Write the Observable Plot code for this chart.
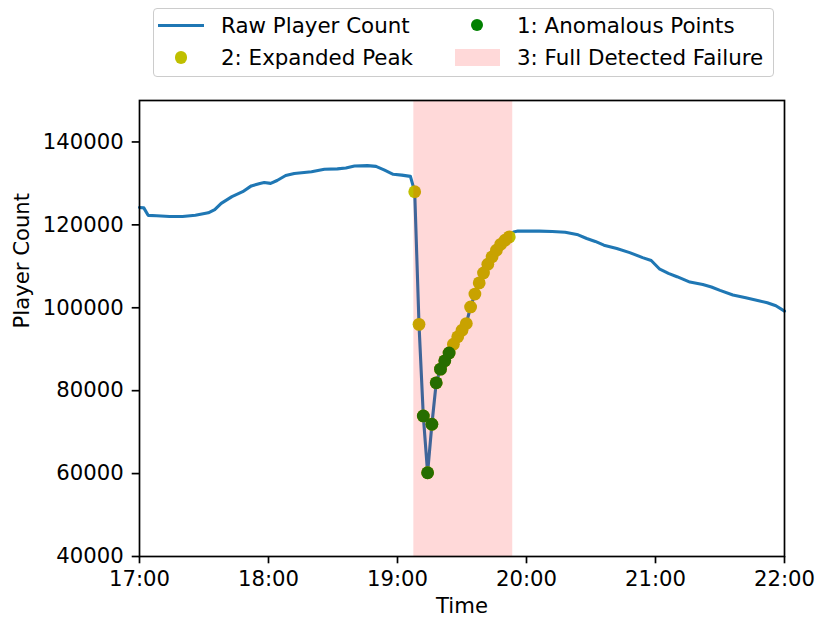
<!DOCTYPE html>
<html><head><meta charset="utf-8">
<script src="https://cdn.jsdelivr.net/npm/d3@7"></script>
<script src="https://cdn.jsdelivr.net/npm/@observablehq/plot@0.6"></script>
<style>
body{margin:0;background:#fff;font-family:"DejaVu Sans",sans-serif;}
#wrap{position:relative;width:817px;height:619px;overflow:hidden;}
#legendBox{position:absolute;left:153px;top:8px;width:619px;height:67px;border:1.7px solid #cccccc;border-radius:4px;background:rgba(255,255,255,0.8);}
.lt{position:absolute;font-size:21.4px;line-height:24px;white-space:nowrap;color:#000;}
.h{position:absolute;}
</style></head><body>
<div id="wrap"><div id="chart"></div>
<div id="legendBox"></div>
<div class="h" style="left:158px;top:23.5px;width:46px;height:3.1px;background:#1f77b4"></div>
<div class="lt" style="left:221px;top:14px">Raw Player Count</div>
<div class="h" style="left:470.6px;top:18.6px;width:12.8px;height:12.8px;border-radius:50%;background:#008000"></div>
<div class="lt" style="left:517px;top:14px">1: Anomalous Points</div>
<div class="h" style="left:174.6px;top:51.1px;width:12.8px;height:12.8px;border-radius:50%;background:#bfbf00"></div>
<div class="lt" style="left:221px;top:46px">2: Expanded Peak</div>
<div class="h" style="left:455px;top:48.5px;width:45px;height:17px;background:rgba(255,0,0,0.15)"></div>
<div class="lt" style="left:517px;top:46px">3: Full Detected Failure</div>
</div>
<script>
// Raw player count series (time, value)
const lineTimes = ["17:00","17:02","17:04","17:08","17:14","17:20","17:26","17:32","17:35","17:38","17:43","17:48","17:52","17:56","17:58","18:01","18:04","18:08","18:12","18:20","18:26","18:32","18:36","18:40","18:46","18:50","18:54","18:58","19:02","19:06",
"19:08","19:10","19:12","19:14","19:16","19:18","19:20","19:22","19:24","19:26","19:28","19:30","19:32","19:34","19:36","19:38","19:40","19:42","19:44","19:46","19:48","19:50","19:52",
"19:54","19:56","20:00","20:06","20:12","20:18","20:24","20:28","20:32","20:36","20:42","20:48","20:54","20:58","21:02","21:06","21:10","21:16","21:22","21:26","21:30","21:36","21:42","21:48","21:52","21:56","22:00"];
const lineValues = [124200,124100,122300,122200,122000,122000,122300,122900,123700,125200,126800,128000,129400,130000,130200,130000,130700,131900,132400,132800,133400,133500,133700,134200,134300,134100,133200,132200,132000,131700,
128000,96000,73900,60200,71900,81900,85200,87200,89100,91200,93000,94600,96200,100200,103300,106000,108400,110500,112300,113900,115300,116300,117100,
118300,118500,118500,118500,118400,118200,117600,116700,116000,115100,114300,113300,112100,111400,109300,108300,107500,106200,105600,105000,104200,103100,102400,101700,101200,100500,99200];
// Expanded peak (yellow) and anomalous points (green)
const expandedPeakTimes = ["19:08","19:10","19:12","19:14","19:16","19:18","19:20","19:22","19:24","19:26","19:28","19:30","19:32","19:34","19:36","19:38","19:40","19:42","19:44","19:46","19:48","19:50","19:52"];
const anomalousTimes = ["19:12","19:14","19:16","19:18","19:20","19:22","19:24"];
// Full detected failure span
const failureSpan = ["19:07:36","19:53:36"];
// Axes
const xTickLabels = ["17:00","18:00","19:00","20:00","21:00","22:00"];
const yTicks = [40000,60000,80000,100000,120000,140000];
const yDomain = [40000,150000];

const parse = d3.utcParse("%H:%M");
const parseS = d3.utcParse("%H:%M:%S");
const fmt = d3.utcFormat("%H:%M");
const line = lineTimes.map((t,i)=>({time:parse(t), count:lineValues[i]}));
const byTime = new Map(lineTimes.map((t,i)=>[t, lineValues[i]]));
const peak = expandedPeakTimes.map(t=>({time:parse(t), count:byTime.get(t)}));
const anom = anomalousTimes.map(t=>({time:parse(t), count:byTime.get(t)}));
const span = [{x1:parseS(failureSpan[0]), x2:parseS(failureSpan[1]), y1:yDomain[0], y2:yDomain[1]}];

const chart = Plot.plot({
  width:817, height:619, marginLeft:139, marginRight:33, marginTop:100, marginBottom:63,
  style:{fontFamily:"DejaVu Sans", fontSize:"21.2px", background:"white", color:"black"},
  x:{type:"utc", domain:[parse(xTickLabels[0]), parse(xTickLabels[xTickLabels.length-1])]},
  y:{domain:yDomain},
  marks:[
    Plot.line(line,{x:"time",y:"count",stroke:"#1f77b4",strokeWidth:3.1}),
    Plot.dot(peak,{x:"time",y:"count",r:6.4,fill:"#bfbf00"}),
    Plot.dot(anom,{x:"time",y:"count",r:6.4,fill:"#008000"}),
    Plot.rect(span,{x1:"x1",x2:"x2",y1:"y1",y2:"y2",fill:"#ff0000",fillOpacity:0.15}),
    Plot.frame({stroke:"black",strokeWidth:1.7}),
    Plot.axisX({ticks:xTickLabels.map(parse), tickFormat:fmt, tickSize:7.3, tickPadding:7, label:null, strokeWidth:1.7}),
    Plot.axisY({ticks:yTicks, tickFormat:d3.format("d"), tickSize:7.3, tickPadding:8.5, label:null, strokeWidth:1.7}),
    Plot.text(["Time"],{frameAnchor:"bottom", dy:56.5, fill:"black"}),
    Plot.text(["Player Count"],{frameAnchor:"left", dx:-117, rotate:-90, fill:"black"})
  ]
});
document.getElementById("chart").appendChild(chart);
</script>
</body></html>
